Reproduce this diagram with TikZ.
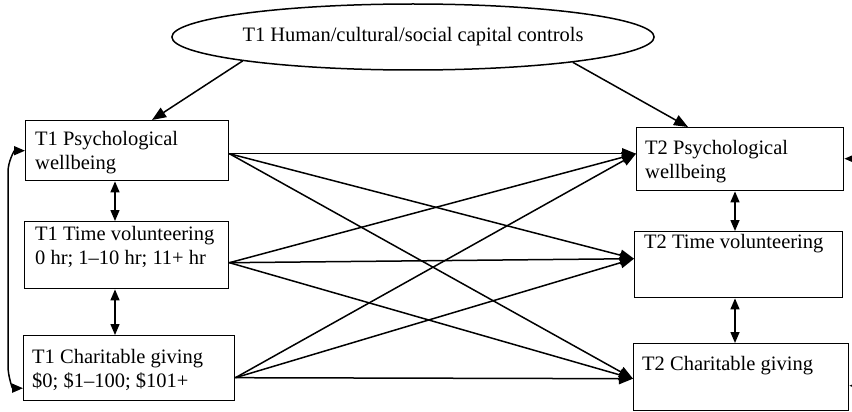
\documentclass[tikz,border=0pt]{standalone}
\usepackage{fontspec}
\setmainfont{Liberation Serif}
\usetikzlibrary{arrows.meta,shapes.geometric,calc}
\begin{document}
\begin{tikzpicture}[x=1pt,y=-1pt,
  box/.style={draw, line width=1.4pt, inner sep=0pt, anchor=north west},
  lbl/.style={anchor=north west, inner sep=0pt, align=left, font=\fontsize{20.5}{24.5}\selectfont},
  arr/.style={line width=1.5pt, -{Triangle[length=14pt,width=11pt]}},
  dbl/.style={line width=1.5pt, {Triangle[length=11pt,width=9pt]}-{Triangle[length=11pt,width=9pt]}},
]
\useasboundingbox (0,0) rectangle (852,412);
\clip (0,0) rectangle (852,412);

% controls ellipse
\node[draw, ellipse, line width=1.5pt, inner sep=0pt, minimum width=414pt, minimum height=66pt,
      font=\fontsize{20.5}{24.5}\selectfont] (ell) at (413,37) {T1 Human/cultural/social capital controls};

% T1 boxes
\node[box, minimum width=203pt, minimum height=60pt] (p1) at (25,120) {};
\node[box, minimum width=204pt, minimum height=67pt] (t1) at (24,221) {};
\node[box, minimum width=211pt, minimum height=65pt] (c1) at (23,335) {};
% T2 boxes
\node[box, minimum width=207pt, minimum height=63pt] (p2) at (636,127) {};
\node[box, minimum width=208pt, minimum height=66pt] (t2) at (634,231) {};
\node[box, minimum width=215pt, minimum height=67pt] (c2) at (633,343) {};

% labels
\node[lbl] at ($(p1.north west)+(10,11)$) {T1 Psychological\\wellbeing};
\node[lbl] at ($(t1.north west)+(11,5)$) {T1 Time volunteering\\0 hr; 1--10 hr; 11+ hr};
\node[lbl] at ($(c1.north west)+(9,14)$) {T1 Charitable giving\\\$0; \$1--100; \$101+};
\node[lbl] at ($(p2.north west)+(9,13)$) {T2 Psychological\\wellbeing};
\node[lbl] at ($(t2.north west)+(10,3)$) {T2 Time volunteering};
\node[lbl] at ($(c2.north west)+(9,13)$) {T2 Charitable giving};

% controls arrows
\draw[arr] (ell.188.7) -- ($(p1.north west)+(127,0)$);
\draw[arr] (ell.351) -- ($(p2.north west)+(52,0)$);

% cross-lag endpoints
\coordinate (s1) at ($(p1.east)+(0,3)$);
\coordinate (s2) at ($(t1.east)+(0,7.5)$);
\coordinate (s3) at ($(c1.east)+(0,9.5)$);
\coordinate (e1) at ($(p2.west)+(0,-5.5)$);
\coordinate (e2) at ($(t2.west)+(0,-6)$);
\coordinate (e3) at ($(c2.west)+(0,1.5)$);
\foreach \s in {s1,s2,s3}{
  \foreach \e in {e1,e2,e3}{
    \draw[arr] (\s) -- (\e);
  }
}

% within-time correlations
\draw[dbl] ($(p1.south west)+(90,0)$) -- ($(t1.north west)+(91,0)$);
\draw[dbl] ($(t1.south west)+(91,0)$) -- ($(c1.north west)+(92,0)$);
\draw[dbl] ($(p2.south west)+(99,0)$) -- ($(t2.north west)+(101,0)$);
\draw[dbl] ($(t2.south west)+(101,0)$) -- ($(c2.north west)+(102,0)$);

% curved correlations
\draw[dbl] (p1.west) to[out=180,in=90] (8,172) -- (8,366) to[out=-90,in=180] ($(c1.west)+(0,20)$);
\draw[dbl] ($(p2.east)+(0,-0.5)$) to[out=0,in=90] (866,180) -- (866,362) to[out=-90,in=0] ($(c2.east)+(0,8.5)$);
\end{tikzpicture}
\end{document}
